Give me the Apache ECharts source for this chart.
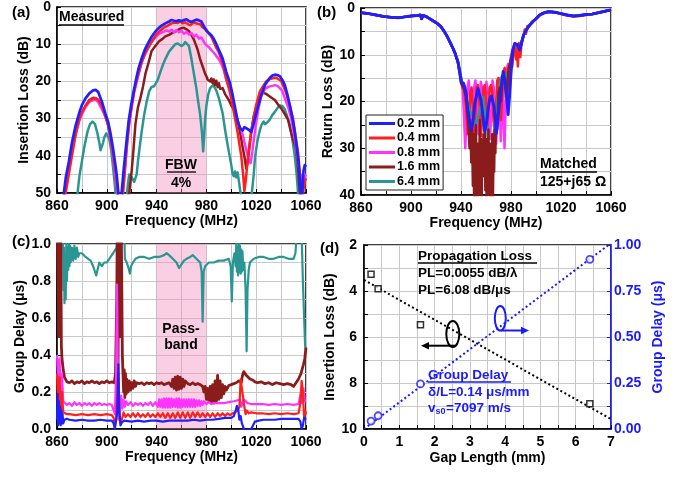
<!DOCTYPE html>
<html><head><meta charset="utf-8">
<script src="https://cdn.jsdelivr.net/npm/echarts/dist/echarts.min.js"></script>
<style>html,body{margin:0;padding:0;background:#fff}#c{width:689px;height:477px}</style>
</head><body><div id="c"></div>
<script>
// ---------- DATA ----------
const seriesNames = ['0.2 mm','0.4 mm','0.8 mm','1.6 mm','6.4 mm'];
const freqTicks = [860, 900, 940, 980, 1020, 1060];
const passBand = [940, 980];

// (a) Insertion loss (dB) vs frequency (MHz)
const a_blue = [[860,62],[864,53],[865.5,50],[867,46],[869.5,41.6],[872,36.5],[875,31.8],[878,28.3],[880,26.4],[883,24.5],[886,23.2],[889,22.4],[891,22.3],[893,22.8],[896,25.4],[899,28.8],[901,30.8],[903,34],[905,38],[906.5,41.5],[908,45.2],[909,49],[910,54],[911,56],[912,49.6],[913.5,44],[915,38.9],[917.5,30.8],[919.5,26.5],[921.5,22.8],[923.5,19.5],[925.5,16.5],[928,13.8],[931,11.1],[933.5,9.5],[936,8],[939,6.6],[941.5,5.7],[944,5],[947,4.4],[950,3.9],[952,3.5],[954,3.7],[956,3.8],[958,3.6],[960,3.8],[962,3.5],[964,3.3],[966,3.8],[968,4.0],[970,3.7],[972,3.4],[974,3.6],[976,3.9],[978,5.2],[980,6.4],[982,7],[984,7.6],[986,8.6],[988,10],[990,11.5],[993,13.8],[996,17.5],[999,20.5],[1001,23.5],[1003,27],[1005,30.5],[1007,32.6],[1009,33.2],[1010.5,32.3],[1012,32],[1014,33],[1016,33.6],[1017.5,32],[1019,30],[1021,27.3],[1024,23.8],[1027,21],[1031,19],[1033,18.4],[1035,18.2],[1037,18.3],[1039,18.6],[1041,19.6],[1043,21],[1045,23.5],[1047,26.4],[1049,29.8],[1051,33.6],[1052.5,37.5],[1054,41.6],[1055,46],[1055.7,49.7],[1056.5,52],[1057.3,48],[1058,44],[1059,42.5],[1060,43]];
const a_red = [[860,60],[866,54],[867,50],[869,46],[872,40],[875,34.3],[878,30],[880,28.3],[883,26.5],[886,25.2],[889,24.6],[891,24.5],[893,24.9],[896,26.5],[899,29.5],[901,31.8],[903,35],[905,39.2],[907,44],[909,49.5],[910,54],[911.5,56],[913,50],[914.5,44],[916,37.5],[918,31],[920,26.5],[922,22.5],[925,18.3],[928,14.8],[931,12.3],[934,10.5],[937,8.8],[940,7.3],[943,6.3],[946,5.5],[949,5],[952,4.4],[955,4.2],[957,4.3],[959,3.9],[961,4.4],[963,4.1],[965,4.6],[967,4.9],[969,4.3],[971,4.3],[973,4.5],[975,4.6],[977,5.5],[980,6.1],[982,7.2],[984,8],[986,9.5],[988,11],[990,12.2],[993,15],[996,19.5],[999,22.5],[1001,26.5],[1003,30],[1005,33.6],[1007,38],[1008,40],[1009.5,45],[1010.5,49.5],[1011.5,47],[1012.5,43.5],[1014,38.5],[1016,33.5],[1018,29.5],[1020,26.3],[1023,22.6],[1028,20],[1031,19.4],[1035,19],[1037,19.2],[1040,19.9],[1044,23],[1047,26.5],[1049.6,30],[1051.5,34.5],[1053.6,39],[1055,44.5],[1056.3,49.7],[1057,53],[1058,49],[1059,47],[1060,46]];
const a_mag = [[860,60],[865.5,52],[866.5,50],[869,45],[872,39],[875,34],[878,30.5],[880,28.8],[883,26.8],[886,25.5],[889,25],[891,25],[893,25.5],[896,27.5],[899,29.5],[901,31.5],[903,35.5],[905,40],[907,45.5],[908.5,50],[910,54],[911.5,55],[913,50],[914.5,44],[916,38],[918,31.5],[920,27],[922,23],[925,18.8],[928,15],[931,12.5],[934,10.5],[937,9],[940,7.8],[943,7],[946,6.6],[948,6.3],[950,6.6],[952,6.1],[954,6.8],[956,6.2],[958,6.8],[960,6.4],[962,7.2],[964,6.7],[966,7.4],[968,7],[970,7.9],[972,7.5],[974,8.5],[976,8.2],[978,9.4],[980,10.3],[982,10.8],[984,11.6],[986,12.3],[988,13.2],[990,14],[992,15.3],[994,17],[996,19.5],[998,22],[1000,24.5],[1002,27],[1004,29.5],[1006,31.6],[1008,33],[1010,35.5],[1012,38.5],[1014,41],[1015.5,42],[1016.5,40],[1018,36],[1020,31],[1022,27],[1024,24],[1027,22],[1030,21.4],[1033,21.2],[1035,21],[1037,21.2],[1039,21.8],[1041,22.6],[1043,24.5],[1046,27.3],[1048,29.8],[1050,33.5],[1052,37.5],[1054,42],[1055,45],[1056,46.5],[1057,45],[1058,46.5],[1059,47],[1060,45]];
const a_mar = [[860,60],[865,52],[866,50],[868,46],[871,40],[874,35],[877,31],[880,28.6],[883,26.5],[886,25],[889,24.4],[891,24.5],[893,25],[896,26.8],[899,29.4],[901,31.5],[903,35],[905,39.5],[907,45],[908.5,50],[910,54],[915,56],[917,52],[918,50],[920,44],[921.5,38],[923,31.5],[925,27],[927,24.5],[929,21.5],[931,18],[933.5,15],[936,11.8],[939,10.5],[942,9.2],[945,8.5],[947,7.9],[950,7.5],[953,6.9],[955,6.6],[957,6.2],[959,5.8],[960,5.5],[962,5.6],[964,6],[966,6.5],[968,7.5],[970,8.8],[971,9.7],[973,11.5],[975,14.1],[977,16],[979,18],[980,18.6],[981,19.5],[983,20],[984,19.2],[985,20.5],[986,19.5],[987,21],[988,19.8],[989,21.5],[990,20.5],[991,22],[993,21.8],[995,23.4],[998,25],[1000,26.5],[1003,28],[1005,30.3],[1007,33.6],[1009,37.5],[1010.8,40.7],[1012,43.4],[1013,42],[1014.5,38],[1016,33.6],[1018,29.5],[1020,27],[1021.5,25.5],[1023,24],[1025.5,23],[1027.5,23.3],[1029.5,23.7],[1032,24.3],[1035,25],[1037.5,26.2],[1040,27.2],[1043,28.8],[1045.6,30.3],[1047.5,33],[1049.5,35.5],[1052,38],[1053,41],[1054,45],[1055,50],[1056,54]];
const a_teal = [[860,60],[875,55],[876.5,50],[878,45.5],[880,41.5],[882,37.5],[884.5,33.5],[886.5,31.5],[888.5,30.8],[890.5,31.5],[892.5,34],[894,36.5],[895,38.5],[896,38],[897,36.5],[898,35],[899.5,34],[900.5,34.2],[902,35.5],[903.5,38.5],[905,43],[906.5,48],[907.5,52],[914,56],[916,51],[917,47.5],[918,45],[919,44.5],[920,45.8],[921,46],[922,47],[923,47.2],[924,45],[925,41.5],[926,38.8],[928,33.5],[930,29],[932,25.5],[934,22.7],[936,21.5],[938,21.3],[939,21],[941,19.5],[943,17.5],[945,15.6],[947,14],[950,12],[953,10.8],[955,10],[957,9.8],[958.5,10.2],[960,10.5],[962,10],[963,9.4],[964.5,9],[966,10.5],[968,14],[970,18],[972,22],[973,24.5],[975,29],[976.5,34],[977.4,38.8],[978.3,34],[979,30],[980,26.5],[981.5,23.5],[983,21.8],[985.5,21],[987,21.8],[988,22.5],[990,24.5],[993,28.5],[995,33],[997,37],[1000,42.5],[1001,44.8],[1002,45.5],[1003,44.2],[1004,45.8],[1005,44.5],[1006,46.5],[1007,49],[1008,51],[1009,55],[1015,53],[1016.5,50],[1018,45],[1019,40.6],[1021,36],[1023,33],[1024.5,31.5],[1026,30.8],[1027,31.5],[1029,31],[1031,30.2],[1033,29],[1035,28.2],[1037,27.2],[1039,26.5],[1041,26.6],[1043,27.5],[1045,29.5],[1047,31.8],[1049,35.5],[1051,40],[1052.5,45],[1053.6,50],[1055,54]];

// (b) Return loss (dB) vs frequency (MHz)
const b_left = [[860,1],[866,1.2],[872,1.5],[878,1.8],[884,2],[890,2.1],[895,1.9],[900,1.7],[905,1.6],[907.5,1.5],[908.5,2.3],[909.5,1.6],[912,1.8],[915,2.3],[918,2.8],[921,3.3],[924,4],[927,5.2],[929,6.1],[931,7.2],[933.5,8.6],[935,9.5],[937.5,11.5]];
const b_right = [[983,7.6],[984.3,7.2],[985.5,7.9],[987,9],[988,8],[990,5.8],[992,4.8],[994,4],[997,3],[1000,2.3],[1003,1.5],[1006,1.1],[1010,0.8],[1015,0.9],[1020,1.2],[1025,1.5],[1030,1.7],[1035,1.6],[1040,1.4],[1045,1.3],[1050,1],[1055,0.7],[1060,0.4]];
const b_redRight = [[982,9],[983,8.5],[984,11],[984.7,8],[985.5,12.5],[986.3,7.5],[987.5,10.5],[988.5,7],[990,6.2],[991,4.6],[992,5.5],[993,3.9],[995,3.6],[997,3.2],[1000,2.2],[1003,1.4],[1006,1.0],[1010,0.7],[1015,0.9],[1020,1.3],[1025,1.6],[1030,1.8],[1035,1.7],[1040,1.5],[1045,1.3],[1050,1.0],[1055,0.7],[1060,0.4]];
const b_bluePB = [[939,13.5],[940.2,15.8],[942.3,16.3],[944,18],[945.5,21.8],[947,24.5],[948.2,26.1],[949.5,24.5],[951,20.5],[953.6,17.2],[956,19.7],[957.5,23],[958.9,26.4],[960.2,25],[961.5,22],[963,19.5],[964.3,18.8],[966.5,21.1],[968.3,26.8],[969.5,24],[971,19.7],[973.7,13.6],[975.5,16],[976.5,19],[977.7,22.8],[978.8,19],[980,14],[981.5,9]];
const b_redPB = [[938,12.5],[939.5,14.5],[941,17],[942,16],[943,18.5],[944.5,23],[945.5,27],[946.5,24],[947.5,18],[948.5,17],[949.5,22],[950.5,28],[951.5,23],[952.5,17],[953.5,16.5],[955,21],[956,27.5],[957,22],[958,17],[959,16.5],[960,20],[961,26],[962,22],[963,17],[964,16.5],[965,18],[966,24],[967,27],[968,21],[969,15.5],[970,15],[971,19],[972,24],[973,18],[974,13.5],[975,12.8],[976,15],[977,21],[978,18],[979,12.5],[980,11],[981,12.5]];
const b_magPB = [[939,13.5],[940.5,15.5],[941.5,18],[942.5,24],[943.4,30],[944.3,24],[945.2,17],[946.2,15.5],[947.2,19],[948,25],[948.7,31],[949.5,25],[950.5,17],[951.5,15.5],[952.5,18],[953.3,24],[954,27],[954.8,21],[955.8,15.8],[956.8,17],[957.7,23],[958.5,26],[959.3,20],[960.3,15.8],[961.3,17.5],[962.3,23],[963.3,28],[964.2,22],[965.2,15.5],[966.2,17],[967.2,23],[968.2,29],[969,23],[970,15],[970.9,18],[971.8,28.5],[972.7,22],[973.4,17],[974,22],[974.8,30],[975.6,22],[976.5,13.5],[977.5,12],[978.5,14],[979.5,11],[981,9]];
const b_marPB = [[938,12.5],[940,16],[942,17],[944,19],[945,22],[946,25],[946.8,30],[947.5,24],[948.2,33],[948.8,26],[949.5,38],[950,27],[950.5,42],[951,30],[951.5,36],[952,25],[952.5,41],[953,29],[953.5,44],[954,31],[954.5,38],[955,24],[955.5,40],[956,28],[956.5,43],[957,30],[957.5,36],[958,27],[958.5,34],[959,26],[959.5,39],[960,28],[960.5,42],[961,30],[961.5,37],[962,26],[962.5,40],[963,29],[963.5,44],[964,31],[964.5,38],[965,27],[965.5,42],[966,30],[966.5,35],[967,26],[967.5,31],[968,23],[969,26],[970,18],[971,17],[972,20],[973,15],[974,14],[975,16],[976,19],[977,17],[978,13],[979,12],[980,11],[981,9.5]];
const b_tealPB = [[939,13.5],[941,16],[943,18],[945,20],[947,22],[949,23],[951,25],[953,24],[955,22],[956.5,20],[957.5,19],[958.5,21],[959.5,25],[960.5,23],[961.5,28],[962.5,33],[963.5,37],[964.5,38.5],[965.5,30],[966.5,26],[968,22],[970,18],[972,15],[974,14],[976,15],[978,13],[980,11],[981.5,9]];

// (c) Group delay (us) vs frequency (MHz)
const c_blue = [[860,0.05],[860.5,0.19],[861,0.02],[861.5,0.15],[862,0.03],[862.5,0.12],[863,0.02],[863.5,0.1],[864,0.03],[864.5,0.08],[865,0.03],[866,0.05],[867,0.04],[868,0.055],[870,0.05],[875,0.045],[880,0.05],[885,0.045],[890,0.045],[895,0.05],[900,0.045],[904,0.045],[905.5,0.03],[906.5,0.0],[907.5,0.0],[908.5,0.1],[909.3,0.35],[910,0.1],[911,0.02],[912,0.035],[914,0.045],[920,0.04],[925,0.045],[930,0.04],[935,0.045],[940,0.045],[945,0.04],[950,0.045],[955,0.045],[960,0.045],[965,0.045],[970,0.05],[975,0.045],[980,0.05],[985,0.05],[990,0.055],[995,0.06],[1000,0.06],[1002,0.07],[1003.5,0.1],[1004.5,0.125],[1005.5,0.11],[1006.5,0.05],[1007.5,0.07],[1008.5,0.03],[1009.5,0.02],[1010.5,-0.005],[1012,0.0],[1014,-0.005],[1016,0.0],[1017.5,0.02],[1019,0.04],[1022,0.045],[1026,0.05],[1030,0.05],[1035,0.05],[1040,0.055],[1045,0.055],[1050,0.055],[1054,0.055],[1055.5,0.04],[1056.5,0.0],[1057.5,0.02],[1058.5,0.06],[1060,0.05]];
const c_red = [[860,0.3],[861,0.12],[862,0.28],[863,0.1],[864,0.2],[865,0.09],[866,0.085],[868,0.08],[870,0.08],[875,0.075],[880,0.08],[885,0.075],[890,0.08],[895,0.075],[900,0.08],[904,0.075],[905.5,0.06],[906.5,0.02],[907.5,0.05],[908.5,0.2],[909.2,0.3],[910,0.1],[911,0.03],[912,0.05],[913.5,0.09],[915,0.065],[917,0.08],[919,0.065],[921,0.085],[923,0.065],[925,0.085],[927,0.065],[929,0.08],[931,0.065],[933,0.085],[935,0.065],[937,0.08],[939,0.065],[941,0.085],[943,0.065],[945,0.085],[947,0.06],[949,0.085],[951,0.06],[953,0.085],[955,0.06],[957,0.09],[959,0.06],[961,0.09],[963,0.06],[965,0.09],[967,0.06],[969,0.09],[971,0.065],[973,0.09],[975,0.065],[977,0.085],[979,0.065],[981,0.085],[983,0.065],[985,0.085],[987,0.065],[989,0.085],[991,0.07],[993,0.085],[995,0.07],[997,0.085],[999,0.075],[1001,0.085],[1003,0.09],[1005,0.1],[1006.5,0.12],[1007.5,0.27],[1008.5,0.22],[1009.5,0.17],[1010.5,0.12],[1011.5,0.08],[1012.5,0.1],[1014,0.085],[1016,0.09],[1020,0.085],[1025,0.085],[1030,0.08],[1035,0.085],[1040,0.08],[1045,0.085],[1050,0.08],[1054,0.085],[1055.5,0.14],[1056.5,0.26],[1057.5,0.2],[1058.5,0.06],[1059.3,0.1],[1060,0.08]];
const c_mag = [[860,0.4],[861,0.25],[862,0.38],[863,0.2],[864,0.3],[865,0.15],[866,0.14],[868,0.13],[870,0.14],[872,0.125],[874,0.145],[876,0.13],[878,0.14],[880,0.125],[882,0.14],[884,0.13],[886,0.14],[888,0.125],[890,0.14],[892,0.13],[894,0.14],[896,0.13],[898,0.135],[900,0.13],[902,0.135],[904,0.13],[905.5,0.12],[906.5,0.08],[907.5,0.3],[908.2,0.78],[908.8,0.3],[909.5,0.05],[910.5,0.1],[911.5,0.18],[912.5,0.11],[913.5,0.16],[914.5,0.12],[915.5,0.15],[917,0.13],[919,0.145],[921,0.125],[923,0.14],[925,0.13],[927,0.14],[929,0.125],[931,0.14],[933,0.13],[935,0.145],[937,0.125],[939,0.145],[941,0.12],[942,0.16],[943,0.12],[944,0.16],[945,0.115],[946,0.165],[947,0.115],[948,0.165],[949,0.115],[950,0.165],[951,0.115],[952,0.165],[953,0.12],[954,0.16],[955,0.12],[956,0.165],[957,0.115],[958,0.165],[959,0.115],[960,0.16],[961,0.12],[962,0.16],[963,0.12],[964,0.16],[965,0.12],[966,0.16],[967,0.12],[968,0.16],[969,0.12],[970,0.16],[971,0.12],[972,0.155],[973,0.125],[974,0.155],[975,0.125],[976,0.15],[977,0.13],[978,0.15],[980,0.135],[982,0.145],[984,0.135],[986,0.14],[990,0.14],[994,0.14],[998,0.145],[1002,0.15],[1005,0.155],[1007,0.16],[1008,0.12],[1009,0.14],[1010,0.16],[1011,0.15],[1013,0.14],[1016,0.135],[1020,0.135],[1025,0.135],[1030,0.13],[1035,0.135],[1040,0.13],[1045,0.135],[1050,0.13],[1054,0.135],[1056,0.2],[1057,0.14],[1058,0.22],[1059,0.15],[1060,0.15]];
const c_mar = [[860,1.2],[861,1.2],[861.5,0.5],[862,1.2],[862.5,0.6],[863,1.1],[863.5,0.45],[864,0.38],[865,0.32],[866,0.28],[867,0.27],[868,0.255],[870,0.25],[872,0.26],[874,0.245],[876,0.255],[878,0.25],[880,0.26],[882,0.245],[884,0.255],[886,0.25],[888,0.26],[890,0.25],[892,0.255],[894,0.245],[896,0.255],[898,0.25],[900,0.26],[902,0.25],[904,0.255],[906,0.25],[907,0.3],[908,0.7],[908.5,1.2],[909,0.2],[909.5,1.2],[910.5,1.2],[911,0.5],[911.5,1.2],[912,1.2],[912.5,0.4],[913,0.3],[913.5,0.2],[914,0.32],[914.5,0.17],[915,0.3],[915.5,0.19],[916,0.27],[917,0.2],[918,0.26],[919,0.21],[920,0.25],[921,0.22],[922,0.26],[923,0.23],[924,0.25],[926,0.245],[928,0.25],[930,0.24],[932,0.25],[934,0.245],[936,0.25],[938,0.24],[940,0.25],[942,0.245],[944,0.25],[946,0.24],[948,0.245],[950,0.25],[952,0.23],[953,0.27],[954,0.22],[955,0.28],[956,0.21],[957,0.285],[958,0.215],[959,0.28],[960,0.22],[961,0.27],[962,0.23],[963,0.26],[965,0.245],[967,0.24],[969,0.25],[971,0.24],[973,0.245],[975,0.24],[977,0.23],[978,0.2],[979,0.23],[980,0.16],[981,0.22],[982,0.15],[983,0.23],[984,0.14],[985,0.24],[986,0.14],[987,0.26],[988,0.15],[989,0.29],[990,0.16],[991,0.26],[992,0.17],[993,0.24],[994,0.19],[995,0.23],[996,0.21],[998,0.235],[1000,0.24],[1002,0.245],[1004,0.25],[1006,0.26],[1007,0.27],[1008,0.25],[1009,0.29],[1010,0.31],[1011,0.32],[1012,0.29],[1013,0.28],[1015,0.27],[1017,0.265],[1019,0.255],[1021,0.25],[1024,0.255],[1027,0.245],[1030,0.25],[1033,0.24],[1036,0.25],[1039,0.245],[1042,0.24],[1045,0.245],[1048,0.24],[1050,0.23],[1052,0.25],[1054,0.27],[1056,0.3],[1058,0.35],[1059,0.38],[1060,0.44]];
const c_teal = [[860,1.3],[864,1.3],[864.8,1.05],[865.2,0.75],[865.6,0.98],[866,0.68],[866.5,0.9],[867,0.7],[867.5,1.0],[868,0.8],[868.5,0.98],[869,0.86],[869.5,1.0],[870,0.88],[870.5,0.99],[871,0.9],[872,0.98],[873,0.91],[874,0.99],[875,0.92],[876,0.98],[877,0.93],[878,0.95],[880,0.95],[883,0.93],[885,0.92],[887,0.91],[889,0.88],[890.5,0.85],[891.5,0.83],[892.5,0.86],[894,0.9],[896,0.88],[898,0.9],[900,0.9],[902,0.92],[904,0.94],[906,0.96],[908,0.98],[909,1.1],[914,1.1],[914.5,0.92],[916,0.9],[917.5,0.87],[918.5,0.84],[919.5,0.88],[921,0.9],[923,0.92],[926,0.93],[930,0.93],[934,0.92],[938,0.93],[942,0.93],[946,0.94],[948,0.95],[950,0.94],[953,0.92],[956,0.9],[958,0.87],[960,0.89],[962,0.91],[964,0.92],[967,0.93],[969,0.94],[972,0.92],[975,0.9],[976.2,0.85],[977,0.58],[977.8,0.85],[979,0.88],[982,0.9],[986,0.9],[990,0.91],[994,0.91],[998,0.92],[999.5,0.88],[1000.4,0.69],[1001.3,0.9],[1002.5,0.95],[1003.5,0.88],[1004,1.0],[1004.5,0.85],[1005,0.98],[1005.5,0.83],[1006,1.0],[1006.5,0.85],[1007,0.99],[1007.5,0.84],[1008,0.97],[1008.5,0.85],[1009,0.96],[1009.5,0.86],[1010.5,0.9],[1011.5,0.75],[1012.3,0.42],[1013,0.75],[1014,0.86],[1015,0.9],[1018,0.92],[1022,0.93],[1026,0.93],[1030,0.92],[1034,0.92],[1038,0.93],[1042,0.93],[1046,0.92],[1050,0.92],[1051.5,0.95],[1052.5,1.05],[1055,1.2],[1056.5,1.05],[1057.5,0.8],[1058.5,0.6],[1059.3,0.45],[1060,0.42]];

// (d) Insertion loss and group delay vs gap length
const gapLength = [0.2, 0.4, 1.6, 6.4];
const ilMeasured = [3.27, 3.9, 5.47, 8.9];
const gdMeasured = [0.043, 0.072, 0.245, 0.922];
const ilFit = [[0, 3.52], [7, 9.57]];
const gdFit = [[0, 0.0], [6.93, 1.0]];

// ---------- STYLE ----------
const FONT = '"Liberation Sans", Arial, Helvetica, sans-serif';
const COL = {'0.2 mm':'#2020ff','0.4 mm':'#ff1f1f','0.8 mm':'#ff33ff','1.6 mm':'#8b1c1c','6.4 mm':'#2a9694'};
const BLUE = '#1a1aff';

function axisBase(extra) {
  return Object.assign({
    nameLocation: 'middle',
    axisLine: {show: true, onZero: false, lineStyle: {color: '#000', width: 1.5}},
    axisTick: {show: true, inside: true, length: 4, lineStyle: {color: '#000', width: 1}},
    splitLine: {show: true, lineStyle: {color: '#c8c8c8', width: 1}},
    nameTextStyle: {color: '#000', fontFamily: FONT, fontWeight: 'bold', fontSize: 14}
  }, extra);
}
function lbl(fmt, margin, color) {
  return {show: true, interval: 0, showMinLabel: true, showMaxLabel: true, margin: margin,
    color: color || '#000', fontFamily: FONT, fontWeight: 'bold', fontSize: 14, formatter: fmt};
}
const freqFmt = v => (freqTicks.indexOf(Math.round(v)) >= 0 ? String(Math.round(v)) : '');

const xAxis = [
  axisBase({gridIndex: 0, type: 'value', min: 860, max: 1060, interval: 20, name: 'Frequency (MHz)', nameGap: 21, axisLabel: lbl(freqFmt, 6)}),
  axisBase({gridIndex: 1, type: 'value', min: 860, max: 1060, interval: 20, name: 'Frequency (MHz)', nameGap: 20, axisLabel: lbl(freqFmt, 6)}),
  axisBase({gridIndex: 2, type: 'value', min: 860, max: 1060, interval: 20, name: 'Frequency (MHz)', nameGap: 21, axisLabel: lbl(freqFmt, 6)}),
  axisBase({gridIndex: 3, type: 'value', min: 0, max: 7, interval: 0.5, name: 'Gap Length (mm)', nameGap: 22, axisLabel: lbl(v => (Math.abs(v - Math.round(v)) < 1e-6 ? String(Math.round(v)) : ''), 6)})
];
const yAxis = [
  axisBase({gridIndex: 0, type: 'value', inverse: true, min: 0, max: 50, interval: 5, name: 'Insertion Loss (dB)', nameGap: 24, axisLabel: lbl(v => (Math.round(v) % 10 === 0 ? String(Math.round(v)) : ''), 6)}),
  axisBase({gridIndex: 1, type: 'value', inverse: true, min: 0, max: 40, interval: 5, name: 'Return Loss (dB)', nameGap: 25, axisLabel: lbl(v => (Math.round(v) % 10 === 0 ? String(Math.round(v)) : ''), 6)}),
  axisBase({gridIndex: 2, type: 'value', min: 0, max: 1, interval: 0.1, name: 'Group Delay (\u03bcs)', nameGap: 24, axisLabel: lbl(v => (Math.round(v * 10) % 2 === 0 ? v.toFixed(1) : ''), 6)}),
  axisBase({gridIndex: 3, type: 'value', inverse: true, min: 2, max: 10, interval: 1, name: 'Insertion Loss (dB)', nameGap: 21, axisLabel: lbl(v => (Math.round(v) % 2 === 0 ? String(Math.round(v)) : ''), 7)}),
  axisBase({gridIndex: 3, type: 'value', position: 'right', min: 0, max: 1, interval: 0.125, name: 'Group Delay (\u03bcs)', nameGap: 40,
    splitLine: {show: false},
    axisLine: {show: true, onZero: false, lineStyle: {color: BLUE, width: 1.5}},
    axisTick: {show: true, inside: true, length: 4, lineStyle: {color: BLUE, width: 1}},
    nameTextStyle: {color: BLUE, fontFamily: FONT, fontWeight: 'bold', fontSize: 14},
    axisLabel: lbl(v => (Math.round(v * 8) % 2 === 0 ? v.toFixed(2) : ''), 3, BLUE)})
];

function lineSeries(name, data, xi, yi, width, extra) {
  return Object.assign({
    type: 'line', name: name, data: data, xAxisIndex: xi, yAxisIndex: yi,
    showSymbol: false, symbol: 'none', clip: true, animation: false,
    lineStyle: {color: COL[name], width: width, join: 'round'},
    itemStyle: {color: COL[name]}
  }, extra || {});
}
const bandArea = {silent: true, itemStyle: {color: 'rgba(245,140,188,0.42)'}, data: [[{xAxis: passBand[0]}, {xAxis: passBand[1]}]]};

const series = [
  // (a)
  lineSeries('6.4 mm', a_teal, 0, 0, 2.5, {markArea: bandArea}),
  lineSeries('1.6 mm', a_mar, 0, 0, 2.5),
  lineSeries('0.8 mm', a_mag, 0, 0, 2.5),
  lineSeries('0.4 mm', a_red, 0, 0, 2.5),
  lineSeries('0.2 mm', a_blue, 0, 0, 2.7),
  // (b)
  lineSeries('0.8 mm', b_left.concat(b_magPB, b_right), 1, 1, 2.5),
  lineSeries('0.4 mm', b_left.concat(b_redPB, b_redRight), 1, 1, 2.5),
  lineSeries('6.4 mm', b_left.concat(b_tealPB, b_right), 1, 1, 2.5),
  lineSeries('1.6 mm', b_left.concat(b_marPB, b_right), 1, 1, 2.5),
  lineSeries('0.2 mm', b_left.concat(b_bluePB, b_right), 1, 1, 2.9),
  // (c)
  lineSeries('6.4 mm', c_teal, 2, 2, 2.2, {markArea: bandArea}),
  lineSeries('1.6 mm', c_mar, 2, 2, 2.8),
  lineSeries('0.8 mm', c_mag, 2, 2, 2.2),
  lineSeries('0.4 mm', c_red, 2, 2, 2.2),
  lineSeries('0.2 mm', c_blue, 2, 2, 2.2),
  // (d)
  {type: 'line', name: 'IL fit', data: ilFit, xAxisIndex: 3, yAxisIndex: 3, symbol: 'none', animation: false,
    lineStyle: {color: '#000', width: 2, type: [2, 2.6]}},
  {type: 'line', name: 'GD fit', data: gdFit, xAxisIndex: 3, yAxisIndex: 4, symbol: 'none', animation: false,
    lineStyle: {color: BLUE, width: 2, type: [2, 2.6]}},
  {type: 'scatter', name: 'IL', data: gapLength.map((g, i) => [g, ilMeasured[i]]), xAxisIndex: 3, yAxisIndex: 3,
    symbol: 'rect', symbolSize: 6, animation: false, z: 5,
    itemStyle: {color: '#fff', borderColor: '#000', borderWidth: 1.5}},
  {type: 'scatter', name: 'GD', data: gapLength.map((g, i) => [g, gdMeasured[i]]), xAxisIndex: 3, yAxisIndex: 4,
    symbol: 'circle', symbolSize: 7, animation: false, z: 5,
    itemStyle: {color: '#fff', borderColor: BLUE, borderWidth: 1.8}}
];

function txt(x, y, s, opt) {
  opt = opt || {};
  return {type: 'text', x: x, y: y, z: 100, silent: true,
    style: {text: s, fill: opt.color || '#000', font: 'bold ' + (opt.size || 14) + 'px ' + FONT,
      textAlign: opt.align || 'left', textVerticalAlign: 'middle', align: opt.align || 'left', verticalAlign: 'middle'}};
}
function uline(x1, x2, y, color) {
  return {type: 'line', z: 100, silent: true, shape: {x1: x1, y1: y, x2: x2, y2: y}, style: {stroke: color || '#000', lineWidth: 1.3}};
}

const graphic = [
  txt(12, 13, '(a)', {size: 15}), txt(317, 13, '(b)', {size: 15}), txt(12, 242, '(c)', {size: 15}), txt(320, 249, '(d)', {size: 15}),
  txt(59, 17, 'Measured'), uline(59, 124, 25),
  txt(181, 165, 'FBW', {align: 'center'}), uline(167, 196, 172),
  txt(181, 183, '4%', {align: 'center'}),
  txt(540, 164, 'Matched'), uline(540, 597, 172),
  txt(540, 182, '125+j65 \u03a9'),
  txt(181, 329, 'Pass-', {align: 'center'}), txt(181, 345, 'band', {align: 'center'}),
  txt(418, 256, 'Propagation Loss', {size: 13.5}), uline(418, 537, 263),
  txt(418, 273, 'PL=0.0055 dB/\u03bb', {size: 13.5}),
  txt(418, 290, 'PL=6.08 dB/\u03bcs', {size: 13.5}),
  txt(428, 375, 'Group Delay', {size: 13.5, color: BLUE}), uline(428, 511, 382, BLUE),
  txt(428, 392, '\u03b4/L=0.14 \u03bcs/mm', {size: 13.5, color: BLUE}),
  txt(428, 408, 'v', {size: 13.5, color: BLUE}),
  txt(435.5, 412, 's0', {size: 9, color: BLUE}),
  txt(446, 408, '=7097 m/s', {size: 13.5, color: BLUE}),
  {type: 'ellipse', z: 100, silent: true, shape: {cx: 452.8, cy: 334, rx: 6.5, ry: 13}, style: {fill: 'none', stroke: '#000', lineWidth: 2}},
  {type: 'line', z: 100, silent: true, shape: {x1: 455, y1: 345.7, x2: 427, y2: 345.7}, style: {stroke: '#000', lineWidth: 2}},
  {type: 'polygon', z: 100, silent: true, shape: {points: [[421, 345.7], [429, 342], [429, 349.4]]}, style: {fill: '#000'}},
  {type: 'ellipse', z: 100, silent: true, shape: {cx: 500.3, cy: 318.3, rx: 5.5, ry: 12.3}, style: {fill: 'none', stroke: BLUE, lineWidth: 2}},
  {type: 'line', z: 100, silent: true, shape: {x1: 501, y1: 330.5, x2: 523, y2: 330.5}, style: {stroke: BLUE, lineWidth: 2}},
  {type: 'polygon', z: 100, silent: true, shape: {points: [[529, 330.5], [521, 326.8], [521, 334.2]]}, style: {fill: BLUE}}
];

const chart = echarts.init(document.getElementById('c'), null, {renderer: 'canvas'});
chart.setOption({
  animation: false,
  backgroundColor: '#fff',
  grid: [
    {left: 57, top: 7, width: 249, height: 186, show: true, borderColor: '#000', borderWidth: 1.5, backgroundColor: 'transparent', containLabel: false},
    {left: 361, top: 8, width: 250, height: 187, show: true, borderColor: '#000', borderWidth: 1.5, backgroundColor: 'transparent', containLabel: false},
    {left: 57, top: 244, width: 249, height: 185, show: true, borderColor: '#000', borderWidth: 1.5, backgroundColor: 'transparent', containLabel: false},
    {left: 364, top: 245, width: 247, height: 184, show: true, borderColor: '#000', borderWidth: 1.5, backgroundColor: 'transparent', containLabel: false}
  ],
  legend: {
    data: seriesNames, orient: 'vertical', left: 366, top: 115, icon: 'rect', itemWidth: 26, itemHeight: 3,
    itemGap: 1.5, padding: [2, 3, 2, 3], backgroundColor: '#fff', borderColor: '#222', borderWidth: 1,
    selectedMode: false, z: 20,
    textStyle: {color: '#000', fontFamily: FONT, fontWeight: 'bold', fontSize: 12.5, lineHeight: 13, padding: [0, 0, 0, -3]}
  },
  xAxis: xAxis,
  yAxis: yAxis,
  series: series,
  graphic: graphic
});
</script></body></html>
